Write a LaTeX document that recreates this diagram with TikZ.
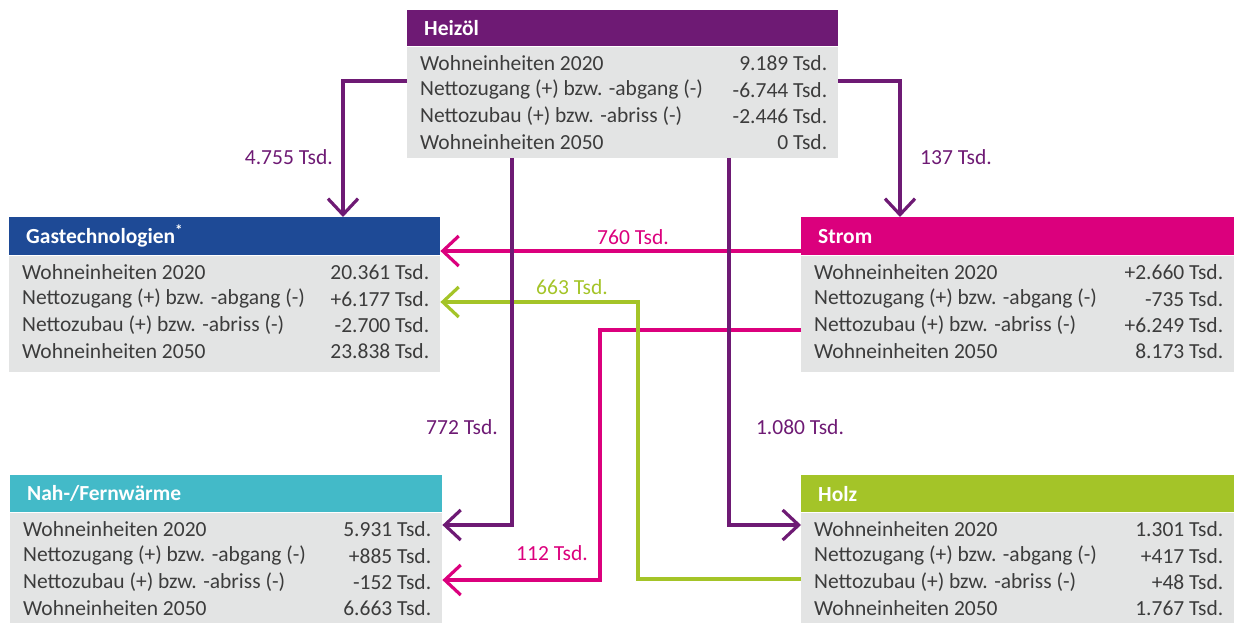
\documentclass[tikz,border=0pt]{standalone}
\usepackage{fontspec}
\setmainfont{Carlito}
\usetikzlibrary{arrows.meta}
\usetikzlibrary{math}

\definecolor{heizcol}{HTML}{6E1A74}
\definecolor{gascol}{HTML}{1E4A96}
\definecolor{stromcol}{HTML}{DB007D}
\definecolor{nahcol}{HTML}{43BAC8}
\definecolor{holzcol}{HTML}{A4C428}
\definecolor{boxgrey}{HTML}{E3E4E4}
\definecolor{txtgrey}{HTML}{3C3C3C}

\tikzset{
  head/.style={fill=#1, inner sep=0pt, anchor=north west},
  body/.style={fill=boxgrey, inner sep=0pt, anchor=north west},
  ttl/.style={text=white, font=\bfseries\fontsize{21.5}{24}\selectfont, inner sep=0pt, anchor=west},
  row/.style={text=txtgrey, font=\fontsize{21.5}{24}\selectfont, inner sep=0pt},
  amount/.style={text=#1, font=\fontsize{21.5}{24}\selectfont, inner sep=0pt},
  flow/.style={draw=#1, line width=3.2pt, -{Straight Barb[length=16pt, width=30pt]}}
}

\begin{document}
\begin{tikzpicture}[x=1pt, y=-1pt]
      \useasboundingbox (0,0) rectangle (1234,623);

      % boxes
      \foreach \nm/\x/\y/\w/\hh/\bh/\col/\ttl/\va/\vb/\vc/\vd in {
          heiz/407/10/431/36/111/heizcol/Heizöl/9.189/-6.744/-2.446/0,
          gas/9/217/431/38/116/gascol/{Gastechnologien\textsuperscript{*}}/20.361/+6.177/-2.700/23.838,
          strom/801/217/433/38/116/stromcol/Strom/+2.660/-735/+6.249/8.173,
          nah/10/475/432/37/148/nahcol/{Nah-/Fernwärme}/5.931/+885/-152/6.663,
          holz/801/475/433/37/148/holzcol/Holz/1.301/+417/+48/1.767} {
        \node[head=\col, minimum width=\w pt, minimum height=\hh pt] (\nm-head) at (\x,\y) {};
        \node[body, minimum width=\w pt, minimum height=\bh pt] (\nm-body) at (\nm-head.south west) {};
        \node[ttl] (\nm-title) at ([xshift=17pt]\nm-head.west) {\ttl};

        \foreach \i/\lab/\val in {1/Wohneinheiten 2020/\va,
            2/Nettozugang (+) bzw. -abgang (-)/\vb,
            3/Nettozubau (+) bzw. -abriss (-)/\vc,
            4/Wohneinheiten 2050/\vd} {
          \tikzmath{ \dy = 17 + 26.3*(\i-1); }
          \node[row, anchor=west] (\nm-l\i) at ([xshift=13pt, yshift=-\dy pt]\nm-body.north west) {\lab};
          \node[row, anchor=east] (\nm-v\i) at ([xshift=-11pt, yshift=-\dy pt]\nm-body.north east) {\val~Tsd.};
        }
      }

      % flows
      \draw[flow=stromcol] (strom-head.west |- 0,251) -- (gas-head.east |- 0,251);
      \draw[flow=stromcol] (strom-body.west |- 0,330) -| (600,580) -- (nah-body.east |- 0,580);
      \draw[flow=holzcol] (holz-body.west |- 0,579) -| (638,302) -- (gas-body.east |- 0,302);
      \draw[flow=heizcol] (heiz-body.west |- 0,81) -| (343,0 |- gas-head.north);
      \draw[flow=heizcol] (heiz-body.east |- 0,81) -| (900,0 |- strom-head.north);
      \draw[flow=heizcol] (512,0 |- heiz-body.south) |- (nah-body.east |- 0,525);
      \draw[flow=heizcol] (729,0 |- heiz-body.south) |- (holz-body.west |- 0,525);

      % amounts
      \node[amount=heizcol, anchor=east] (n-heiz-gas) at (333,157) {4.755 Tsd.};
      \node[amount=heizcol, anchor=west] (n-heiz-strom) at (920,157) {137 Tsd.};
      \node[amount=stromcol] (n-strom-gas) at (633,237) {760 Tsd.};
      \node[amount=holzcol] (n-holz-gas) at (572,287) {663 Tsd.};
      \node[amount=heizcol] (n-heiz-nah) at (462,427) {772 Tsd.};
      \node[amount=heizcol] (n-heiz-holz) at (800,427) {1.080 Tsd.};
      \node[amount=stromcol] (n-strom-nah) at (552,553) {112 Tsd.};
    \end{tikzpicture}
\end{document}
